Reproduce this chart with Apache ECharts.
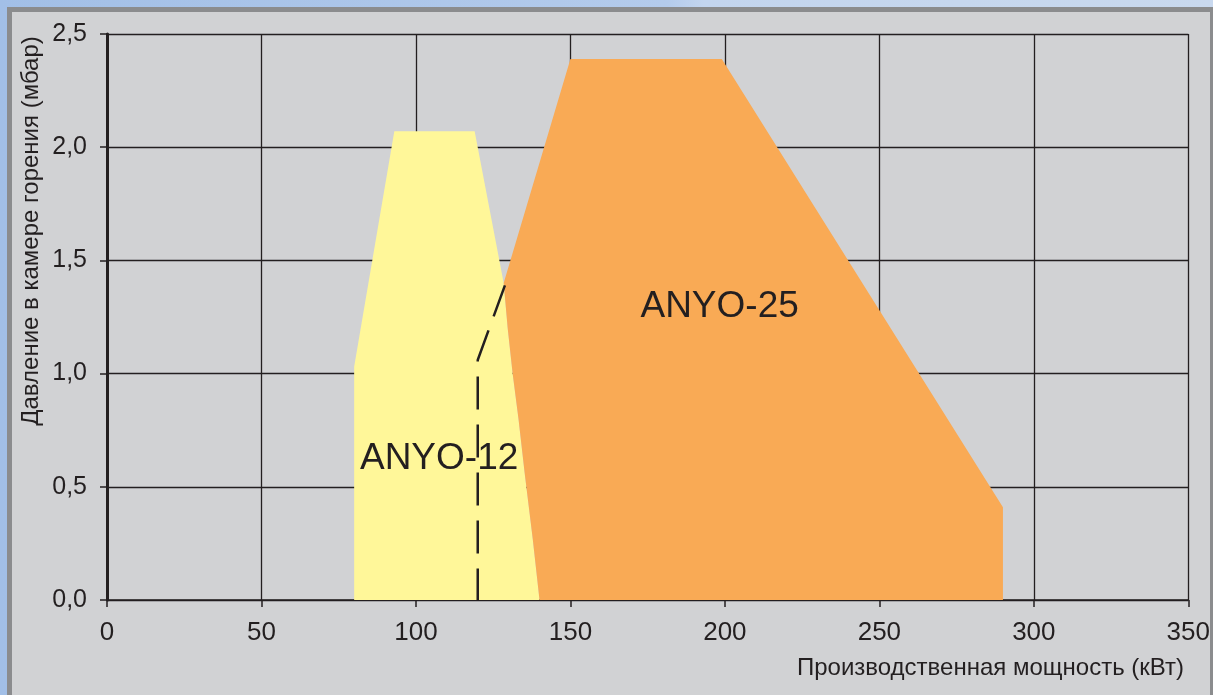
<!DOCTYPE html>
<html>
<head>
<meta charset="utf-8">
<script src="https://cdn.jsdelivr.net/npm/echarts@6/dist/echarts.min.js"></script>
<style>
html,body{margin:0;padding:0;}
#chart{width:1213px;height:695px;}
</style>
</head>
<body>
<div id="chart"></div>
<script>
// ---- data ----
const anyo12X = [80, 80, 93, 119, 128.4, 129.7, 131.3, 133.2, 135.2, 137.8, 140];
const anyo12Y = [0, 1.03, 2.07, 2.07, 1.40, 1.20, 1.00, 0.80, 0.56, 0.27, 0];
const anyo25X = [140, 137.8, 135.2, 133.2, 131.3, 129.7, 128.4, 150, 199, 290, 290];
const anyo25Y = [0, 0.27, 0.56, 0.80, 1.00, 1.20, 1.40, 2.39, 2.39, 0.41, 0];
const dashX = [128.8, 120, 120];
const dashY = [1.39, 1.06, 0];
const labelNames = ['ANYO-12', 'ANYO-25'];
const labelX = [107.5, 198.3];
const labelY = [0.622, 1.293];
const xName = 'Производственная мощность (кВт)';
const yName = 'Давление в камере горения (мбар)';

const ink = '#231f20';
const font = 'Liberation Sans, Arial, sans-serif';

function polygonSeries(xs, ys, color) {
  return {
    type: 'custom',
    coordinateSystem: 'cartesian2d',
    silent: true,
    z: 2,
    encode: {x: 0, y: 1},
    data: xs.map((x, i) => [x, ys[i]]),
    renderItem: function (params, api) {
      if (params.dataIndex !== 0) return null;
      const pts = xs.map((x, i) => api.coord([x, ys[i]]));
      return {type: 'polygon', shape: {points: pts}, style: {fill: color}};
    }
  };
}

const chart = echarts.init(document.getElementById('chart'), null, {renderer: 'canvas'});
chart.setOption({
  animation: false,
  backgroundColor: {
    type: 'linear', x: 0, y: 0, x2: 1, y2: 0,
    colorStops: [{offset: 0, color: '#a2bfe7'}, {offset: 0.55, color: '#b4cbec'}, {offset: 0.58, color: '#c3d5ef'}, {offset: 1, color: '#c9d9ef'}]
  },
  graphic: [
    {type: 'rect', z: -10, shape: {x: 7, y: 7, width: 1206, height: 688}, style: {fill: '#8b8c8e'}, silent: true},
    {type: 'rect', z: -9, shape: {x: 12, y: 12, width: 1198, height: 683}, style: {fill: '#d1d2d4'}, silent: true},
    {type: 'text', z: 10, x: 31, y: 231, rotation: Math.PI / 2,
      style: {text: yName, font: '24px ' + font, fill: ink, textAlign: 'center', textVerticalAlign: 'middle'}},
    {type: 'text', z: 10, x: 1184, y: 668,
      style: {text: xName, font: '24px ' + font, fill: ink, textAlign: 'right', textVerticalAlign: 'middle'}}
  ],
  grid: {left: 107, right: 24, top: 34, bottom: 95, containLabel: false},
  xAxis: {
    type: 'value', min: 0, max: 350, interval: 50,
    axisLine: {show: true, onZero: false, lineStyle: {color: ink, width: 1.5}},
    axisTick: {show: true, inside: false, length: 7, lineStyle: {color: ink, width: 1.5}},
    splitLine: {show: true, lineStyle: {color: ink, width: 1.3}},
    axisLabel: {color: ink, fontSize: 26, fontFamily: font, margin: 20}
  },
  yAxis: [{
    type: 'value', min: 0, max: 2.5, interval: 0.5,
    axisLine: {show: true, onZero: false, lineStyle: {color: ink, width: 1.5}},
    axisTick: {show: true, inside: false, length: 7, lineStyle: {color: ink, width: 1.5}},
    splitLine: {show: true, lineStyle: {color: ink, width: 1.3}},
    axisLabel: {color: ink, fontSize: 25, fontFamily: font, margin: 20,
      formatter: v => v.toFixed(1).replace('.', ',')}
  }, {
    type: 'value', min: 0, max: 2.5, interval: 0.5, position: 'right',
    axisLine: {show: true, lineStyle: {color: ink, width: 3}},
    axisTick: {show: false}, axisLabel: {show: false}, splitLine: {show: false}
  }],
  series: [
    polygonSeries(anyo12X, anyo12Y, '#fff799'),
    polygonSeries(anyo25X, anyo25Y, '#f9aa55'),
    {
      type: 'scatter', silent: true, z: 4, symbol: 'circle', symbolSize: 1,
      itemStyle: {color: 'rgba(0,0,0,0)', opacity: 1},
      data: labelNames.map((n, i) => ({name: n, value: [labelX[i], labelY[i]]})),
      label: {show: true, position: 'inside', formatter: p => p.name,
        color: ink, opacity: 1, fontSize: 37, fontFamily: font}
    },
    {
      type: 'line', silent: true, z: 6, symbol: 'none',
      data: dashX.map((x, i) => [x, dashY[i]]),
      lineStyle: {color: ink, width: 2.5, type: [33, 15]}
    }
  ]
});
</script>
</body>
</html>
